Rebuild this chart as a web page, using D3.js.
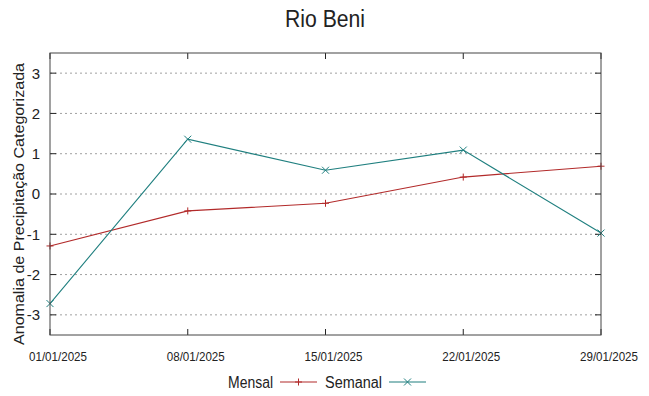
<!DOCTYPE html>
<html lang="pt">
<head>
    <meta charset="UTF-8">
    <title>Rio Beni</title>
    <script src="https://d3js.org/d3.v7.min.js"></script>
    <style>
        body { margin: 0; background: #fff; }
        text { font-family: "Liberation Sans", Arial, sans-serif; fill: #222; }
        .grid line { stroke: #a0a0a0; stroke-dasharray: 2,3; stroke-width: 1; }
    </style>
</head>
<body>
    <svg width="649" height="396"></svg>

    <script>
        // data
        const dates = ["01/01/2025", "08/01/2025", "15/01/2025", "22/01/2025", "29/01/2025"];
        const mensal = [-1.29, -0.42, -0.23, 0.42, 0.69];
        const semanal = [-2.72, 1.36, 0.59, 1.09, -0.97];
        const yTicks = [-3, -2, -1, 0, 1, 2, 3];

        const svg = d3.select("svg");
        const margin = {top: 53, right: 48, bottom: 61, left: 50};
        const width = 649 - margin.left - margin.right;
        const height = 396 - margin.top - margin.bottom;

        const x = d3.scalePoint().domain(dates).range([0, width]);
        const y = d3.scaleLinear().domain([-3.5, 3.5]).range([height, 0]);

        const g = svg.append("g").attr("transform", `translate(${margin.left},${margin.top})`);

        // gridlines
        g.append("g").attr("class", "grid")
            .selectAll("line").data(yTicks).enter().append("line")
            .attr("x1", 0).attr("x2", width)
            .attr("y1", d => y(d)).attr("y2", d => y(d));

        // tick marks (inward, mirrored)
        const tk = 6;
        g.append("g").selectAll("line").data(yTicks).enter().append("line")
            .attr("x1", 0).attr("x2", tk).attr("y1", d => y(d)).attr("y2", d => y(d))
            .attr("stroke", "#222");
        g.append("g").selectAll("line").data(yTicks).enter().append("line")
            .attr("x1", width - tk).attr("x2", width).attr("y1", d => y(d)).attr("y2", d => y(d))
            .attr("stroke", "#222");
        g.append("g").selectAll("line").data(dates).enter().append("line")
            .attr("x1", d => x(d)).attr("x2", d => x(d)).attr("y1", height).attr("y2", height - tk)
            .attr("stroke", "#222");
        g.append("g").selectAll("line").data(dates).enter().append("line")
            .attr("x1", d => x(d)).attr("x2", d => x(d)).attr("y1", 0).attr("y2", tk)
            .attr("stroke", "#222");

        // tick labels
        g.append("g").selectAll("text").data(yTicks).enter().append("text")
            .attr("x", -10).attr("y", d => y(d)).attr("dy", "0.36em")
            .attr("text-anchor", "end").attr("font-size", 15)
            .text(d => d);
        g.append("g").selectAll("text").data(dates).enter().append("text")
            .attr("x", d => x(d) + 8).attr("y", height + 26)
            .attr("text-anchor", "middle").attr("font-size", 13)
            .attr("textLength", 58).attr("lengthAdjust", "spacingAndGlyphs")
            .text(d => d);

        // lines
        const series = [
            {name: "Mensal", values: mensal, color: "#b22a2a", marker: "plus"},
            {name: "Semanal", values: semanal, color: "#1f7f7f", marker: "cross"}
        ];
        const line = d3.line().x((d, i) => x(dates[i])).y(d => y(d));
        const m = 3.5;
        function drawMarker(sel, type, cx, cy, color) {
            const p = type === "plus"
                ? `M${cx - m},${cy}H${cx + m}M${cx},${cy - m}V${cy + m}`
                : `M${cx - m},${cy - m}L${cx + m},${cy + m}M${cx - m},${cy + m}L${cx + m},${cy - m}`;
            sel.append("path").attr("d", p).attr("stroke", color).attr("stroke-width", 1).attr("fill", "none");
        }

        series.forEach(s => {
            g.append("path").datum(s.values)
                .attr("d", line).attr("fill", "none")
                .attr("stroke", s.color).attr("stroke-width", 1.1);
            const mg = g.append("g");
            s.values.forEach((v, i) => drawMarker(mg, s.marker, x(dates[i]), y(v), s.color));
        });

        // frame
        g.append("rect").attr("width", width).attr("height", height)
            .attr("fill", "none").attr("stroke", "#444").attr("stroke-width", 1);

        // title
        svg.append("text").attr("x", 325).attr("y", 27)
            .attr("text-anchor", "middle").attr("font-size", 23)
            .attr("textLength", 80).attr("lengthAdjust", "spacingAndGlyphs")
            .text("Rio Beni");

        // y label
        svg.append("text")
            .attr("transform", `translate(24,204) rotate(-90)`)
            .attr("text-anchor", "middle").attr("font-size", 15.5)
            .attr("textLength", 282).attr("lengthAdjust", "spacingAndGlyphs")
            .text("Anomalia de Precipitação Categorizada");

        // legend
        const leg = svg.append("g");
        const legItems = [
            {s: series[0], tx: 273, lx: 280, w: 45},
            {s: series[1], tx: 382, lx: 389, w: 57}
        ];
        legItems.forEach(d => {
            leg.append("text").attr("x", d.tx).attr("y", 388)
                .attr("text-anchor", "end").attr("font-size", 16)
                .attr("textLength", d.w).attr("lengthAdjust", "spacingAndGlyphs")
                .text(d.s.name);
            leg.append("line").attr("x1", d.lx).attr("x2", d.lx + 37)
                .attr("y1", 382).attr("y2", 382)
                .attr("stroke", d.s.color).attr("stroke-width", 1.1);
            drawMarker(leg, d.s.marker, d.lx + 18.5, 382, d.s.color);
        });
    </script>
</body>
</html>
